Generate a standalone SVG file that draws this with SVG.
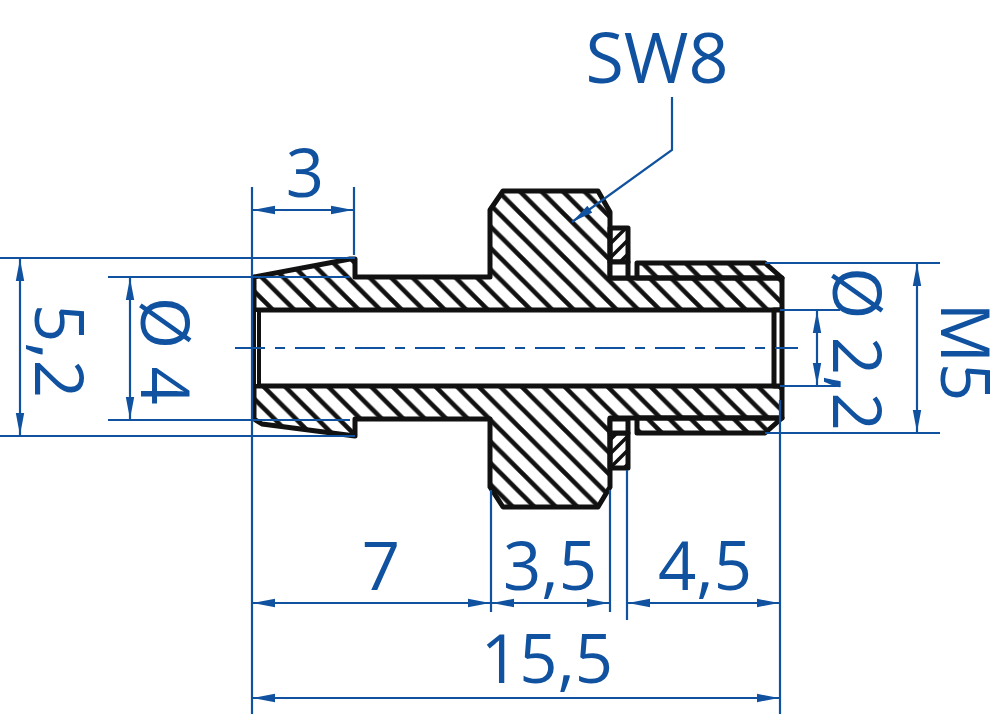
<svg xmlns="http://www.w3.org/2000/svg" width="1000" height="714" viewBox="0 0 1000 714">
<style>
.o{stroke:#111;stroke-width:5;stroke-linejoin:round}
.hb{fill:url(#h)}
.ht{fill:url(#h2)}
.hw{fill:url(#w)}
.wh{fill:#fff}
.d{fill:none;stroke:#10529f;stroke-width:2.2}
.t{fill:#10529f;font-family:"Open Sans","Liberation Sans",sans-serif;font-size:67px;text-anchor:middle}
</style>
<defs>
<pattern id="h" width="21.5" height="21.5" patternUnits="userSpaceOnUse" patternTransform="translate(6 0)"><path d="M-5 -5L26.5 26.5M16.5 -5L26.5 5M-5 16.5L5 26.5" stroke="#111" stroke-width="4.6" fill="none"/></pattern>
<pattern id="h2" width="21.5" height="21.5" patternUnits="userSpaceOnUse" patternTransform="translate(14 0)"><path d="M-5 -5L26.5 26.5M16.5 -5L26.5 5M-5 16.5L5 26.5" stroke="#111" stroke-width="4.6" fill="none"/></pattern>
<pattern id="w" width="14" height="14" patternUnits="userSpaceOnUse"><path d="M-3 17L17 -3M-3 3L3 -3M11 17L17 11" stroke="#111" stroke-width="3.5" fill="none"/></pattern>
<marker id="a" viewBox="0 0 22 10" refX="22" refY="5" markerWidth="22" markerHeight="10" markerUnits="userSpaceOnUse" orient="auto-start-reverse"><path d="M0 .8L22 5L0 9.2Z" fill="#10529f"/></marker>
</defs>
<rect width="1000" height="714" fill="#fff"/>
<g id="part">
<path class="o hb" d="M254 310V277L350 259H355V277H490V210L503 191H598L610 212V278H782V310Z"/>
<path class="o hb" d="M254 386H782V417V418H610V487L598 507H503L490 487V419H355V436L262 424L254 419Z"/>
<path class="o ht" d="M637 263H765L782 278H637Z"/>
<path class="o ht" d="M637 418H782L765 433H637Z"/>
<path class="o hw" d="M610 228H628V262H610Z"/>
<path class="o wh" d="M610 262H628V278H610Z"/>
<path class="o hw" d="M610 433H628V468H610Z"/>
<path class="o wh" d="M610 419H628V433H610Z"/>
<rect class="o wh" x="254" y="310" width="5" height="76" style="stroke-width:4"/>
<rect class="o wh" x="774" y="310" width="8" height="76"/>
</g>
<g id="connectors">
<path class="d" d="M252 187V714M354 187V255M0 258H355M0 436H355M108 277H350M108 420H350M765 263H940M765 433H940M780 310H840M780 386H840M491 490V612M610 490V612M627 470V620M780 400V714"/>
<path class="d" d="M235 348H798" stroke-dasharray="30 10 10 10"/>
<path class="d" d="M253 210H353" marker-start="url(#a)" marker-end="url(#a)"/>
<path class="d" d="M20 259V435" marker-start="url(#a)" marker-end="url(#a)"/>
<path class="d" d="M130 278V419" marker-start="url(#a)" marker-end="url(#a)"/>
<path class="d" d="M917 264V432" marker-start="url(#a)" marker-end="url(#a)"/>
<path class="d" d="M817 311V385" marker-start="url(#a)" marker-end="url(#a)"/>
<path class="d" d="M253 603H490" marker-start="url(#a)" marker-end="url(#a)"/>
<path class="d" d="M492 603H609" marker-start="url(#a)" marker-end="url(#a)"/>
<path class="d" d="M628 603H779" marker-start="url(#a)" marker-end="url(#a)"/>
<path class="d" d="M253 698H779" marker-start="url(#a)" marker-end="url(#a)"/>
<path class="d" d="M672 97V150L572 222" marker-end="url(#a)"/>
</g>
<g id="labels">
<text class="t" x="657" y="83" style="font-size:70px">SW8</text>
<text class="t" x="305" y="197">3</text>
<text class="t" x="381" y="590">7</text>
<text class="t" x="550" y="590">3,5</text>
<text class="t" x="705" y="590">4,5</text>
<text class="t" x="547" y="683">15,5</text>
<text class="t" transform="translate(35 351) rotate(90)">5,2</text>
<text class="t" transform="translate(141 351) rotate(90)">Ø 4</text>
<text class="t" transform="translate(833 349) rotate(90)">Ø 2,2</text>
<text class="t" transform="translate(941 352) rotate(90)">M5</text>
</g>
</svg>
